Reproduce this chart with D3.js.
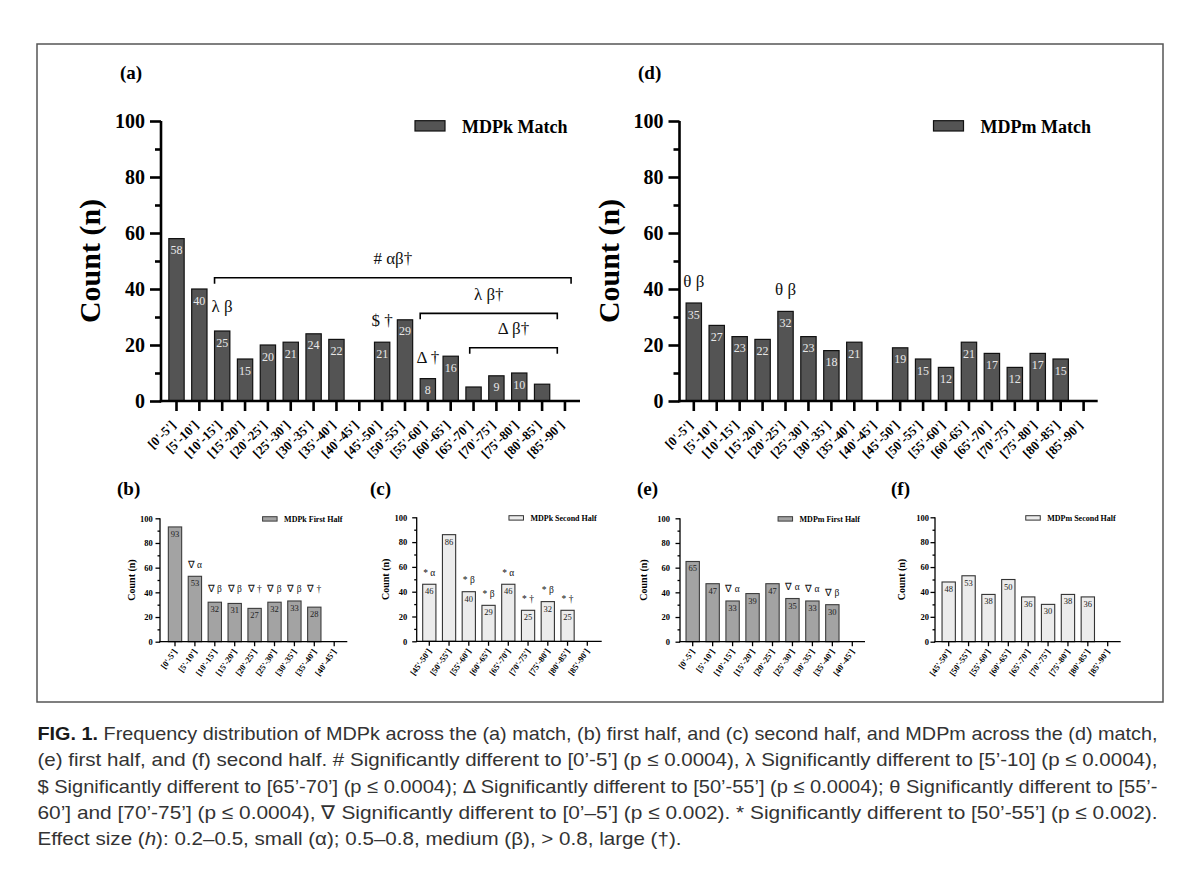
<!DOCTYPE html>
<html><head><meta charset="utf-8">
<script src="https://cdn.jsdelivr.net/npm/d3@7"></script>
<style>body{margin:0;background:#fff}svg{display:block}</style>
</head><body>
<svg id="fig" width="1200" height="871"></svg>
<script>
// ---------- DATA ----------
const matchCats = ["[0'-5']","[5'-10']","[10'-15']","[15'-20']","[20'-25']","[25'-30']","[30'-35']","[35'-40']","[40'-45']",
  "[45'-50']","[50'-55']","[55'-60']","[60'-65']","[65'-70']","[70'-75']","[75'-80']","[80'-85']","[85'-90']"];
const firstHalfCats = matchCats.slice(0, 9);
const secondHalfCats = matchCats.slice(9);
const yTicks = [0, 20, 40, 60, 80, 100];
const yMinorTicks = [10, 30, 50, 70, 90];

const mdpkMatch  = [58, 40, 25, 15, 20, 21, 24, 22, 0, 21, 29, 8, 16, 5, 9, 10, 6, 0];
const mdpmMatch  = [35, 27, 23, 22, 32, 23, 18, 21, 0, 19, 15, 12, 21, 17, 12, 17, 15, 0];
const mdpkFirst  = [93, 53, 32, 31, 27, 32, 33, 28, 0];
const mdpkSecond = [46, 86, 40, 29, 46, 25, 32, 25, 0];
const mdpmFirst  = [65, 47, 33, 39, 47, 35, 33, 30, 0];
const mdpmSecond = [48, 53, 38, 50, 36, 30, 38, 36, 0];

const mdpkMatchMarks = [
  {cat: "[10'-15']", text: "λ β", at: 26},
  {cat: "[45'-50']", text: "$ †"},
  {cat: "[55'-60']", text: "Δ †"}
];
const mdpkMatchBrackets = [
  {from: "[10'-15']", to: "[85'-90']", level: 44, text: "# αβ†"},
  {from: "[55'-60']", to: "[85'-90']", level: 31.3, text: "λ β†"},
  {from: "[65'-70']", to: "[85'-90']", level: 19, text: "Δ β†"}
];
const mdpmMatchMarks = [
  {cat: "[0'-5']", text: "θ β"},
  {cat: "[20'-25']", text: "θ β"}
];
const mdpkFirstMarks = [
  {cat: "[5'-10']", text: "∇ α"},
  {cat: "[10'-15']", text: "∇ β", at: 33},
  {cat: "[15'-20']", text: "∇ β", at: 33},
  {cat: "[20'-25']", text: "∇ †", at: 33},
  {cat: "[25'-30']", text: "∇ β", at: 33},
  {cat: "[30'-35']", text: "∇ β", at: 33},
  {cat: "[35'-40']", text: "∇ †", at: 33}
];
const mdpkSecondMarks = [
  {cat: "[45'-50']", text: "* α"},
  {cat: "[55'-60']", text: "* β"},
  {cat: "[60'-65']", text: "* β"},
  {cat: "[65'-70']", text: "* α"},
  {cat: "[70'-75']", text: "* †"},
  {cat: "[75'-80']", text: "* β"},
  {cat: "[80'-85']", text: "* †"}
];
const mdpmFirstMarks = [
  {cat: "[10'-15']", text: "∇ α"},
  {cat: "[25'-30']", text: "∇ α"},
  {cat: "[30'-35']", text: "∇ α"},
  {cat: "[35'-40']", text: "∇ β"}
];
const mdpmSecondMarks = [];

const captionLines = [
  [{t: "FIG. 1.", b: true}, {t: " Frequency distribution of MDPk across the (a) match, (b) first half, and (c) second half, and MDPm across the (d) match,"}],
  [{t: "(e) first half, and (f) second half. # Significantly different to [0’-5’] (p ≤ 0.0004), λ Significantly different to [5’-10] (p ≤ 0.0004),"}],
  [{t: "$ Significantly different to [65’-70’] (p ≤ 0.0004); Δ Significantly different to [50’-55’] (p ≤ 0.0004); θ Significantly different to [55’-"}],
  [{t: "60’] and [70’-75’] (p ≤ 0.0004), ∇ Significantly different to [0’–5’] (p ≤ 0.002). * Significantly different to [50’-55’] (p ≤ 0.002)."}],
  [{t: "Effect size ("}, {t: "h", i: true}, {t: "): 0.2–0.5, small (α); 0.5–0.8, medium (β), > 0.8, large (†)."}]
];

// ---------- STYLE / LAYOUT ----------
const SERIF = "'Liberation Serif','Times New Roman',Times,serif";
const SANS = "'Liberation Sans Narrow','Arial Narrow','Liberation Sans',Arial,sans-serif";
const svg = d3.select("#fig");

const bigStyle = {tickFont: 20, xFont: 13, xAngle: -45, xdx: 0, xdy: 25, titleFont: 30, axisW: 2.6,
  majorTick: 11, minorTick: 6, xTick: 10, valueFont: 12, valueDy: 15.5, valueColor: "#e8e8e8", minLabelH: 20,
  markFont: 17, markGap: 16, barStroke: 1.2, legendFont: 18, bracketTick: 6, bracketW: 1.6, bracketGap: 13.5};
const smallStyle = {tickFont: 8.5, xFont: 8.5, xAngle: -55, xdx: 2.5, xdy: 10, titleFont: 10, axisW: 1.3,
  majorTick: 4.5, minorTick: 2.5, xTick: 4.5, valueFont: 8.5, valueDy: 10, valueColor: "#222", minLabelH: 10,
  markFont: 9.5, markGap: 8.5, barStroke: 1.1, legendFont: 8};

const darkBar = {fill: "#545454", stroke: "#111"};
const midBar = {fill: "#a3a3a3", stroke: "#3c3c3c"};
const lightBar = {fill: "#ececec", stroke: "#333"};

// frame
svg.append("rect").attr("x", 37).attr("y", 44).attr("width", 1126).attr("height", 658)
  .attr("fill", "none").attr("stroke", "#555").attr("stroke-width", 1.5);

function drawPanel(cfg, st) {
  const g = svg.append("g");
  const n = cfg.cats.length;
  const x = d3.scaleBand().domain(cfg.cats)
    .range([cfg.axisX + cfg.firstOffset - cfg.step / 2, cfg.axisX + cfg.firstOffset + (n - 0.5) * cfg.step])
    .paddingInner(0.33).paddingOuter(0.165);
  const y = d3.scaleLinear().domain([0, 100]).range([cfg.yBottom, cfg.yTop]);
  const cx = c => x(c) + x.bandwidth() / 2;
  const rows = cfg.cats.map((c, i) => ({cat: c, v: cfg.values[i]}));

  // bars
  g.selectAll("rect.bar").data(rows.filter(d => d.v > 0)).join("rect").attr("class", "bar")
    .attr("x", d => x(d.cat)).attr("width", x.bandwidth())
    .attr("y", d => y(d.v)).attr("height", d => y(0) - y(d.v))
    .attr("fill", cfg.bar.fill).attr("stroke", cfg.bar.stroke).attr("stroke-width", st.barStroke);

  // value labels
  g.selectAll("text.val").data(rows.filter(d => d.v > 0 && y(0) - y(d.v) > st.minLabelH)).join("text").attr("class", "val")
    .attr("x", d => cx(d.cat)).attr("y", d => y(d.v) + st.valueDy)
    .attr("text-anchor", "middle").attr("font-family", SERIF).attr("font-size", st.valueFont)
    .attr("fill", st.valueColor).text(d => d.v);

  // y axis
  const ya = g.append("g").attr("transform", `translate(${cfg.axisX},0)`)
    .call(d3.axisLeft(y).tickValues(yTicks).tickSize(st.majorTick).tickSizeOuter(0).tickPadding(cfg.labelGap - st.majorTick));
  ya.select(".domain").remove();
  ya.selectAll("line").attr("stroke", "#000").attr("stroke-width", st.axisW);
  ya.selectAll("text").attr("font-family", SERIF).attr("font-weight", "bold").attr("font-size", st.tickFont).attr("fill", "#000");
  const ym = g.append("g").attr("transform", `translate(${cfg.axisX},0)`)
    .call(d3.axisLeft(y).tickValues(yMinorTicks).tickSize(st.minorTick).tickSizeOuter(0).tickFormat(""));
  ym.select(".domain").remove();
  ym.selectAll("line").attr("stroke", "#000").attr("stroke-width", st.axisW);

  // x ticks
  const xa = g.append("g").attr("transform", `translate(0,${y(0)})`)
    .call(d3.axisBottom(x).tickSize(st.xTick).tickSizeOuter(0).tickFormat(""));
  xa.select(".domain").remove();
  xa.selectAll("line").attr("stroke", "#000").attr("stroke-width", st.axisW);

  // axis lines
  g.append("line").attr("x1", cfg.axisX).attr("x2", cfg.axisX).attr("y1", y(100)).attr("y2", y(0) + st.axisW / 2)
    .attr("stroke", "#000").attr("stroke-width", st.axisW);
  g.append("line").attr("x1", cfg.axisX - st.axisW / 2).attr("x2", cfg.axisEnd).attr("y1", y(0)).attr("y2", y(0))
    .attr("stroke", "#000").attr("stroke-width", st.axisW);

  // x labels
  g.selectAll("text.xl").data(cfg.cats).join("text").attr("class", "xl")
    .attr("transform", d => `translate(${cx(d) + st.xdx},${y(0) + st.xdy}) rotate(${st.xAngle})`)
    .attr("text-anchor", "end").attr("font-family", SERIF).attr("font-weight", "bold")
    .attr("font-size", st.xFont).attr("fill", "#000").text(d => d);

  // y title
  g.append("text").attr("transform", `translate(${cfg.axisX + cfg.titleX},${(y(0) + y(100)) / 2}) rotate(-90)`)
    .attr("text-anchor", "middle").attr("font-family", SERIF).attr("font-weight", "bold")
    .attr("font-size", st.titleFont).attr("fill", "#000").text("Count (n)");

  // panel letter
  g.append("text").attr("x", cfg.axisX + cfg.letterX).attr("y", cfg.letterY)
    .attr("font-family", SERIF).attr("font-weight", "bold").attr("font-size", 19).attr("fill", "#000").text(cfg.letter);

  // legend
  if (cfg.big) {
    g.append("rect").attr("x", cfg.axisX + 254).attr("y", cfg.yTop - 0.3).attr("width", 30).attr("height", 10.3)
      .attr("fill", cfg.bar.fill).attr("stroke", cfg.bar.stroke).attr("stroke-width", 1.2);
    g.append("text").attr("x", cfg.axisX + 301).attr("y", cfg.yTop + 12)
      .attr("font-family", SERIF).attr("font-weight", "bold").attr("font-size", st.legendFont).text(cfg.legend);
  } else {
    const t = g.append("text").attr("x", cfg.axisEnd - 5).attr("y", cfg.yTop + 3.3).attr("text-anchor", "end")
      .attr("font-family", SERIF).attr("font-weight", "bold").attr("font-size", st.legendFont).text(cfg.legend);
    const w = t.node().getComputedTextLength();
    g.append("rect").attr("x", cfg.axisEnd - 5 - w - 21.5).attr("y", cfg.yTop - 1.6).attr("width", 14.5).attr("height", 4.4)
      .attr("fill", cfg.bar.fill).attr("stroke", cfg.bar.stroke).attr("stroke-width", 1);
  }

  // significance marks
  const valOf = c => cfg.values[cfg.cats.indexOf(c)];
  g.selectAll("text.mark").data(cfg.marks).join("text").attr("class", "mark")
    .attr("x", d => cx(d.cat)).attr("y", d => y(d.at !== undefined ? d.at : valOf(d.cat)) - st.markGap)
    .attr("text-anchor", "middle").attr("font-family", SERIF).attr("font-size", st.markFont).attr("fill", "#111")
    .text(d => d.text);

  // brackets
  (cfg.brackets || []).forEach((b, i) => {
    const off = cfg.bracketOffsets[i];
    const x1 = x(b.from) + x.bandwidth() * off[0];
    const x2 = x(b.to) + x.bandwidth() * off[1];
    const yy = y(b.level);
    g.append("path").attr("d", `M${x1},${yy + st.bracketTick}V${yy}H${x2}V${yy + st.bracketTick}`)
      .attr("fill", "none").attr("stroke", "#000").attr("stroke-width", st.bracketW);
    g.append("text").attr("x", (x1 + x2) / 2).attr("y", yy - st.bracketGap).attr("text-anchor", "middle")
      .attr("font-family", SERIF).attr("font-size", st.markFont).attr("fill", "#111").text(b.text);
  });
}

drawPanel({cats: matchCats, values: mdpkMatch, marks: mdpkMatchMarks, brackets: mdpkMatchBrackets,
  bracketOffsets: [[0, 0.9], [0, 0], [0.25, 0]], big: true, bar: darkBar, legend: "MDPk Match", letter: "(a)",
  axisX: 161, axisEnd: 580, yTop: 121, yBottom: 401, firstOffset: 15.5, step: 22.85, labelGap: 16,
  titleX: -61, letterX: -41, letterY: 79}, bigStyle);
drawPanel({cats: matchCats, values: mdpmMatch, marks: mdpmMatchMarks, big: true, bar: darkBar, legend: "MDPm Match", letter: "(d)",
  axisX: 679.5, axisEnd: 1097.7, yTop: 121, yBottom: 401, firstOffset: 14.3, step: 22.93, labelGap: 16,
  titleX: -61, letterX: -41.5, letterY: 79}, bigStyle);

drawPanel({cats: firstHalfCats, values: mdpkFirst, marks: mdpkFirstMarks, bar: midBar, legend: "MDPk First Half", letter: "(b)",
  axisX: 160, axisEnd: 347.3, yTop: 518.3, yBottom: 641.7, firstOffset: 15, step: 19.9, labelGap: 7.3,
  titleX: -25, letterX: -43, letterY: 495}, smallStyle);
drawPanel({cats: secondHalfCats, values: mdpkSecond, marks: mdpkSecondMarks, bar: lightBar, legend: "MDPk Second Half", letter: "(c)",
  axisX: 416.7, axisEnd: 601.7, yTop: 517.3, yBottom: 641.3, firstOffset: 12.6, step: 19.75, labelGap: 9.4,
  titleX: -28, letterX: -46.7, letterY: 495}, smallStyle);
drawPanel({cats: firstHalfCats, values: mdpmFirst, marks: mdpmFirstMarks, bar: midBar, legend: "MDPm First Half", letter: "(e)",
  axisX: 680, axisEnd: 865, yTop: 518.3, yBottom: 641.7, firstOffset: 12.7, step: 19.95, labelGap: 10,
  titleX: -33.5, letterX: -43, letterY: 495}, smallStyle);
drawPanel({cats: secondHalfCats, values: mdpmSecond, marks: mdpmSecondMarks, bar: lightBar, legend: "MDPm Second Half", letter: "(f)",
  axisX: 935, axisEnd: 1120.7, yTop: 517.3, yBottom: 641.7, firstOffset: 13.7, step: 19.875, labelGap: 6,
  titleX: -30, letterX: -44, letterY: 495}, smallStyle);

// caption
const capBase = 740, capStep = 26.3, capX = 37.5;
const capWidths = [1120, 1120, 1120, 1120, null];
captionLines.forEach((segs, i) => {
  const t = svg.append("text").attr("x", capX).attr("y", capBase + i * capStep)
    .attr("font-family", SANS).attr("font-size", 19).attr("fill", "#333");
  segs.forEach(s => {
    const sp = t.append("tspan").text(s.t);
    if (s.b) sp.attr("font-weight", "bold").attr("fill", "#1a1a1a");
    if (s.i) sp.attr("font-style", "italic");
  });
  if (capWidths[i]) t.attr("textLength", capWidths[i]).attr("lengthAdjust", "spacingAndGlyphs");
  else t.attr("textLength", 644).attr("lengthAdjust", "spacingAndGlyphs");
});
</script>
</body></html>
